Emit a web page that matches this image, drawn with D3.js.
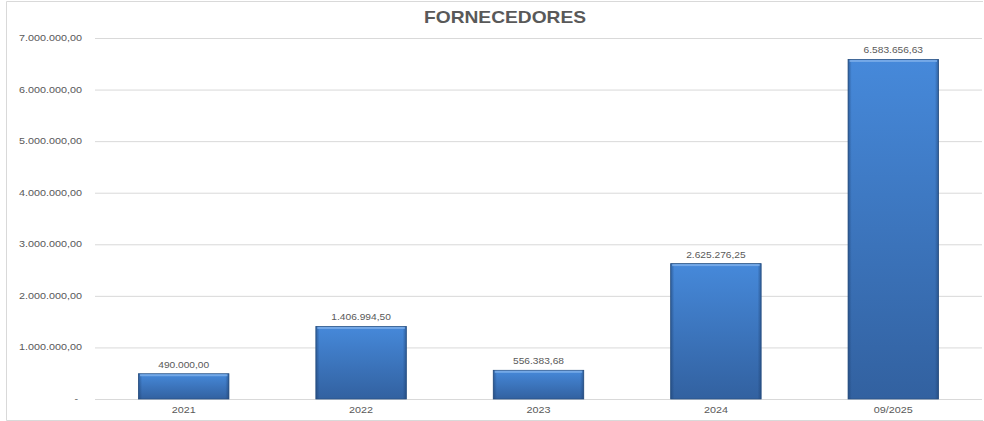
<!DOCTYPE html>
<html>
<head>
<meta charset="utf-8">
<script src="https://cdn.jsdelivr.net/npm/d3@7"></script>
<style>
  body { margin: 0; background: #fff; }
  text { font-family: "Liberation Sans", Arial, sans-serif; fill: #595959; }
</style>
</head>
<body>
<script>
// data
const categories = ["2021", "2022", "2023", "2024", "09/2025"];
const values = [490000.00, 1406994.50, 556383.68, 2625276.25, 6583656.63];
const yTicks = [0, 1000000, 2000000, 3000000, 4000000, 5000000, 6000000, 7000000];
const title = "FORNECEDORES";

const W = 984, H = 421;
const m = { left: 95, right: 2, top: 38, bottom: 22 };
const sx = 1.2; // text in the reference is slightly stretched horizontally

const svg = d3.select("body").append("svg")
  .attr("width", W).attr("height", H);

// pt-BR number format
const ptBR = d3.formatLocale({ decimal: ",", thousands: ".", grouping: [3], currency: ["R$", ""] });
const fmt = ptBR.format(",.2f");

const x = d3.scaleBand().domain(categories)
  .range([m.left, W - m.right]).paddingInner(0.49).paddingOuter(0.245);
const y = d3.scaleLinear().domain([0, 7000000]).range([H - m.bottom, m.top]);

// chart border (left, top, bottom)
svg.append("path")
  .attr("d", `M983,1.5 H6.5 V420.5 H983`)
  .attr("fill", "none").attr("stroke", "#d9d9d9").attr("stroke-width", 1);

// gradients
const defs = svg.append("defs");
const gv = defs.append("linearGradient").attr("id", "gv").attr("x1", 0).attr("y1", 0).attr("x2", 0).attr("y2", 1);
gv.append("stop").attr("offset", "0%").attr("stop-color", "#4689da");
gv.append("stop").attr("offset", "100%").attr("stop-color", "#3261a0");
const gh = defs.append("linearGradient").attr("id", "gh").attr("x1", 0).attr("y1", 0).attr("x2", 1).attr("y2", 0);
gh.append("stop").attr("offset", "0%").attr("stop-color", "#1d3f6e").attr("stop-opacity", 0.55);
gh.append("stop").attr("offset", "4%").attr("stop-color", "#1d3f6e").attr("stop-opacity", 0);
gh.append("stop").attr("offset", "96%").attr("stop-color", "#1d3f6e").attr("stop-opacity", 0);
gh.append("stop").attr("offset", "100%").attr("stop-color", "#1d3f6e").attr("stop-opacity", 0.55);

// y axis (gridlines + labels)
const yAxis = d3.axisLeft(y).tickValues(yTicks)
  .tickSize(-(W - m.right - m.left)).tickPadding(0)
  .tickFormat(d => "");
const ga = svg.append("g").attr("transform", `translate(${m.left},0)`).call(yAxis);
ga.select(".domain").remove();
ga.selectAll(".tick line").attr("stroke", "#d9d9d9");

svg.append("g").selectAll("text").data(yTicks).join("text")
  .attr("transform", d => `translate(${d === 0 ? 78 : 82},${y(d) + 3}) scale(${sx},1)`)
  .attr("text-anchor", "end")
  .style("font-size", "9px")
  .text(d => d === 0 ? "-" : fmt(d));

// bars
const bars = svg.append("g").selectAll("g").data(values).join("g");
bars.append("rect")
  .attr("x", (d, i) => x(categories[i]))
  .attr("y", d => y(d))
  .attr("width", x.bandwidth())
  .attr("height", d => y(0) - y(d))
  .attr("fill", "url(#gv)")
  .attr("stroke", "#2b5384").attr("stroke-width", 0.8);
bars.append("rect")
  .attr("x", (d, i) => x(categories[i]))
  .attr("y", d => y(d))
  .attr("width", x.bandwidth())
  .attr("height", d => y(0) - y(d))
  .attr("fill", "url(#gh)");
// top bevel highlight
bars.append("rect")
  .attr("x", (d, i) => x(categories[i]) + 1.5)
  .attr("y", d => y(d) + 0.5)
  .attr("width", x.bandwidth() - 3)
  .attr("height", 2)
  .attr("fill", "#7fb0ea").attr("opacity", 0.8);

// value labels
svg.append("g").selectAll("text").data(values).join("text")
  .attr("transform", (d, i) => `translate(${x(categories[i]) + x.bandwidth() / 2},${y(d) - 6}) scale(${sx},1)`)
  .attr("text-anchor", "middle")
  .style("font-size", "8.5px")
  .text(d => fmt(d));

// category labels
svg.append("g").selectAll("text").data(categories).join("text")
  .attr("transform", d => `translate(${x(d) + x.bandwidth() / 2},${y(0) + 14}) scale(${sx},1)`)
  .attr("text-anchor", "middle")
  .style("font-size", "9px")
  .text(d => d);

// title
svg.append("text")
  .attr("transform", `translate(505,23) scale(${sx},1)`)
  .attr("text-anchor", "middle")
  .style("font-size", "16px").style("font-weight", "bold")
  .text(title);
</script>
</body>
</html>
